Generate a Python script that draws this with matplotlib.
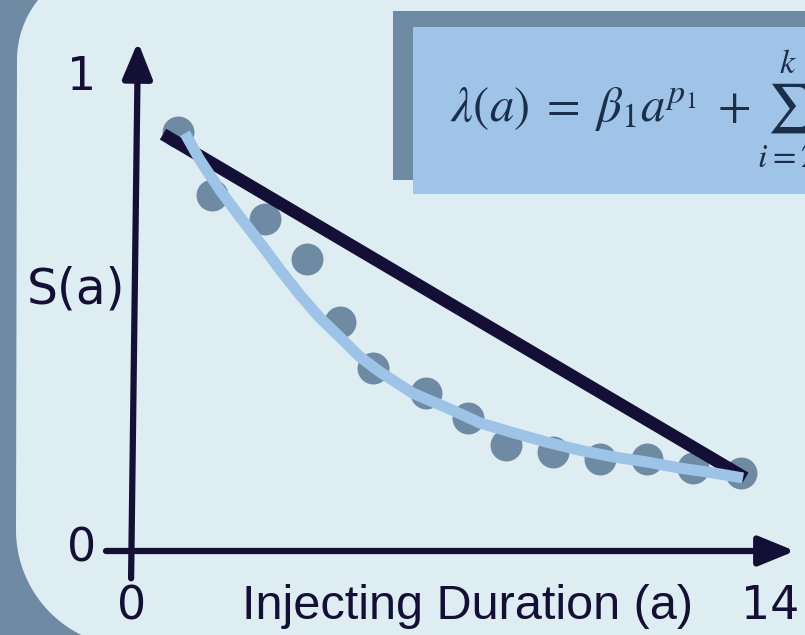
import numpy as np
import matplotlib.pyplot as plt
from matplotlib.patches import Rectangle, Polygon, FancyArrowPatch

# observed survival points
age = [1.01, 1.75, 2.92, 3.84, 4.56, 5.29, 6.45, 7.37, 8.2, 9.23, 10.26, 11.29, 12.3, 13.36]
surv = [0.889, 0.756, 0.705, 0.620, 0.486, 0.389, 0.335, 0.282, 0.225, 0.210, 0.195, 0.195, 0.176, 0.165]

# simple (straight) model
lin_age = [0.68, 13.45]
lin_surv = [0.885, 0.155]

# flexible fitted curve
fit_age = [1.16, 1.49, 1.93, 2.37, 2.81, 3.25, 3.68, 4.12, 4.56, 5.00, 5.44, 6.16,
           6.91, 7.63, 8.36, 9.10, 9.82, 10.55, 11.29, 12.02, 12.74, 13.40]
fit_surv = [0.887, 0.830, 0.766, 0.709, 0.654, 0.597, 0.544, 0.495, 0.454, 0.412, 0.380, 0.335,
            0.304, 0.272, 0.251, 0.231, 0.214, 0.200, 0.189, 0.176, 0.166, 0.155]

x_ticks = [0, 14]
x_tick_labels = ["0", "14"]
y_ticks = [0, 1]
y_tick_labels = ["0", "1"]

NAVY = "#140f35"
SLATE = "#6e8ba3"
PANEL = "#deedf2"
BOX = "#9fc4e7"
FIT = "#9dc3e6"

W, H = 805, 635
fig = plt.figure(figsize=(W / 100, H / 100), dpi=100)
fig.patch.set_facecolor(SLATE)

# decoration layer in pixel coords
bg = fig.add_axes([0, 0, 1, 1])
bg.set_xlim(0, W)
bg.set_ylim(H, 0)
bg.axis("off")

# rounded panel outline
r1, c1 = 96, (113, 60)
r2, c2 = 117, (133, 530)
t1 = np.linspace(np.pi, 1.5 * np.pi, 40)
t2 = np.linspace(0.5 * np.pi, np.pi, 40)
top = np.column_stack([c1[0] + r1 * np.cos(t1), c1[1] + r1 * np.sin(t1)])
bot = np.column_stack([c2[0] + r2 * np.cos(t2), c2[1] + r2 * np.sin(t2)])
verts = np.vstack([[[W + 50, c1[1] - r1]], top[::-1], bot[::-1], [[W + 50, c2[1] + r2]]])
bg.add_patch(Polygon(verts, closed=True, facecolor=PANEL, edgecolor="none"))

# formula box with offset shadow (formula runs off the right edge, as in the slide)
bg.add_patch(Rectangle((393, 11), 500, 169, facecolor=SLATE, edgecolor="none"))
bg.add_patch(Rectangle((413, 27), 500, 167, facecolor=BOX, edgecolor="none"))
bg.text(450, 108, r"$\lambda(a)\;=\;\beta_1 a^{p_1}\;+\sum_{i=2}^{k} \beta_i a^{p_i}$",
        fontsize=35, color="#1b2f4a", va="center", ha="left",
        math_fontfamily="stix")

# data layer
ax = fig.add_axes([0, 0, 1, 1])
ax.patch.set_alpha(0)
ax.set_xlim(-132 / 45.6, (W - 132) / 45.6)
ax.set_ylim((551 - H) / 471, 551 / 471)
ax.axis("off")

# axes with arrow heads
arrow = "-|>,head_length=1.1,head_width=0.45"
ax.add_patch(FancyArrowPatch((-0.02, -0.058), (0.13, 1.081), arrowstyle=arrow,
                             mutation_scale=20, color=NAVY, lw=4.5, shrinkA=0, shrinkB=0))
ax.add_patch(FancyArrowPatch((-0.57, 0), (14.54, 0), arrowstyle=arrow,
                             mutation_scale=20, color=NAVY, lw=4.5, shrinkA=0, shrinkB=0))

ax.plot(age, surv, "o", ms=23, color=SLATE, mec="none", zorder=3)
ax.plot(lin_age, lin_surv, color=NAVY, lw=9, solid_capstyle="butt", zorder=4)
ax.plot(fit_age, fit_surv, color=FIT, lw=8, solid_capstyle="butt",
        solid_joinstyle="round", zorder=5)

tick_font = dict(fontsize=33, color=NAVY, family="DejaVu Sans")
for v, lab in zip(y_ticks, y_tick_labels):
    ax.text(-1.1, v + 0.005, lab, ha="center", va="center", **tick_font)
for v, lab in zip(x_ticks, x_tick_labels):
    ax.text(v, -0.118, lab, ha="center", va="center", **tick_font)

ax.text(-0.15, 0.555, "S(a)", ha="right", va="center", fontsize=35, color=NAVY, family="DejaVu Sans")
ax.text(7.35, -0.118, "Injecting Duration (a)", ha="center", va="center", fontsize=35, color=NAVY,
        family=["Liberation Sans Narrow", "Liberation Sans"])

fig.savefig("out.png", dpi=100, facecolor=fig.get_facecolor())
